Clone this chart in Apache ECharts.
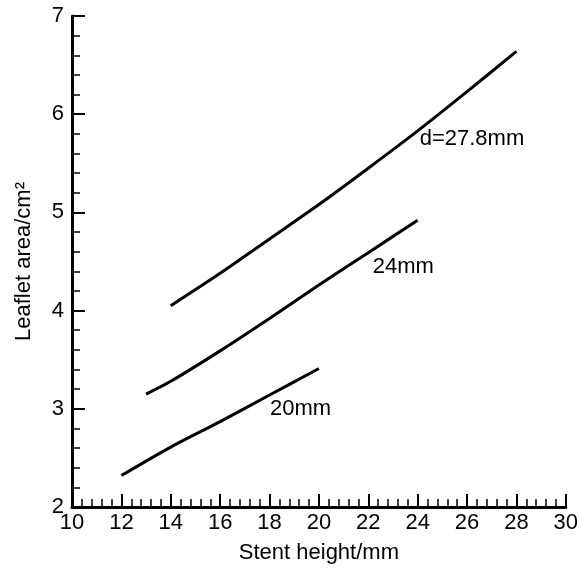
<!DOCTYPE html>
<html>
<head>
<meta charset="UTF-8">
<title>Leaflet area</title>
<script src="https://cdn.jsdelivr.net/npm/echarts@6/dist/echarts.min.js"></script>
</head>
<body style="margin:0;background:#fff;">
<div id="chart" style="width:581px;height:569px;"></div>
<script>
    // stent height (mm) and leaflet area (cm^2), one list per diameter
    var x20 = [12, 14, 16, 18, 20];
    var y20 = [2.32, 2.61, 2.87, 3.14, 3.41];
    var x24 = [13, 14, 16, 18, 20, 22, 24];
    var y24 = [3.15, 3.28, 3.59, 3.92, 4.26, 4.59, 4.92];
    var x278 = [14, 16, 18, 20, 22, 24, 26, 28];
    var y278 = [4.05, 4.38, 4.73, 5.08, 5.45, 5.83, 6.23, 6.64];
    var names = ['20mm', '24mm', 'd=27.8mm'];
    // where each curve label sits (data coords)
    var labelAt = [[19.26, 3.0], [23.42, 4.44], [26.2, 5.75]];

    function pairs(xs, ys) {
        var out = [];
        for (var i = 0; i < xs.length; i++) out.push([xs[i], ys[i]]);
        return out;
    }

    var font = 'Liberation Sans, Arial, sans-serif';
    var curves = [pairs(x20, y20), pairs(x24, y24), pairs(x278, y278)];
    var series = [];
    for (var k = 0; k < curves.length; k++) {
        series.push({
            name: names[k],
            type: 'line',
            data: curves[k],
            smooth: 0.3,
            symbol: 'none',
            lineStyle: { color: '#000', width: 3 },
            markPoint: {
                symbol: 'circle',
                symbolSize: 0,
                data: [{ coord: labelAt[k], value: names[k] }],
                label: {
                    show: true,
                    position: 'inside',
                    formatter: '{c}',
                    color: '#000',
                    fontSize: 22,
                    fontFamily: font
                }
            }
        });
    }

    var chart = echarts.init(document.getElementById('chart'));
    chart.setOption({
        animation: false,
        backgroundColor: '#fff',
        grid: { left: 72, right: 12, top: 16, bottom: 59 },
        xAxis: {
            type: 'value',
            min: 10, max: 30, interval: 2,
            name: 'Stent height/mm',
            nameLocation: 'middle',
            nameGap: 35,
            nameTextStyle: { color: '#000', fontSize: 22, fontFamily: font },
            axisLine: { lineStyle: { color: '#000', width: 3 } },
            axisTick: { inside: true, length: 13, lineStyle: { color: '#000', width: 2 } },
            minorTick: { show: true, splitNumber: 5, length: 8, lineStyle: { color: '#000', width: 1.5 } },
            axisLabel: { color: '#000', fontSize: 22, fontFamily: font, margin: 5 },
            splitLine: { show: false }
        },
        yAxis: {
            type: 'value',
            min: 2, max: 7, interval: 1,
            name: 'Leaflet area/cm²',
            nameLocation: 'middle',
            nameGap: 37,
            nameTextStyle: { color: '#000', fontSize: 22, fontFamily: font },
            axisLine: { lineStyle: { color: '#000', width: 3 } },
            axisTick: { inside: true, length: 13, lineStyle: { color: '#000', width: 2 } },
            minorTick: { show: true, splitNumber: 5, length: 8, lineStyle: { color: '#000', width: 1.5 } },
            axisLabel: { color: '#000', fontSize: 22, fontFamily: font, margin: 8 },
            splitLine: { show: false }
        },
        series: series
    });
</script>
</body>
</html>
